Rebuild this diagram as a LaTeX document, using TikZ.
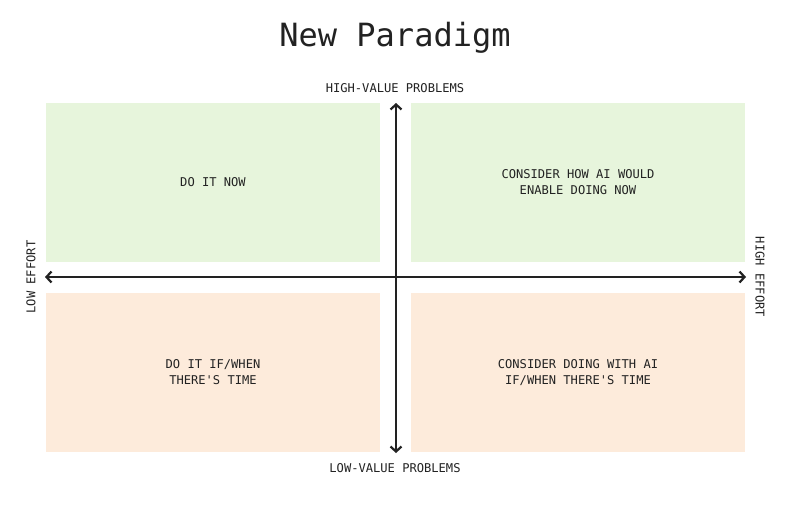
\documentclass[tikz,border=0pt]{standalone}
\usepackage{fontspec}
\setmonofont{DejaVu Sans Mono}
\usetikzlibrary{arrows.meta}
\definecolor{hiv}{HTML}{E7F5DC}
\definecolor{lov}{HTML}{FDEBDB}
\definecolor{ink}{HTML}{222222}
\tikzset{
  quad/.style={inner sep=0pt, minimum width=334pt, minimum height=159pt, text=ink, font=\ttfamily\fontsize{12.1}{16}\selectfont, align=center},
  axislabel/.style={text=ink, font=\ttfamily\fontsize{12.1}{14}\selectfont, inner sep=0pt},
  axis/.style={draw=ink, line width=2.6pt, {Straight Barb[length=5pt,width=11pt,line width=2.2pt]}-{Straight Barb[length=5pt,width=11pt,line width=2.2pt]}}
}
\begin{document}
\begin{tikzpicture}[x=1pt,y=-1pt]
  \useasboundingbox[fill=white] (0,0) rectangle (795,511);
  \node[text=ink, font=\ttfamily\fontsize{32}{34}\selectfont, inner sep=0pt] (title) at (395,38) {New Paradigm};

  \node[quad, fill=hiv] (q1) at (213,182.5) {DO IT NOW};
  \node[quad, fill=hiv] (q2) at (578,182.5) {CONSIDER HOW AI WOULD\\ENABLE DOING NOW};
  \node[quad, fill=lov] (q3) at (213,372.5) {DO IT IF/WHEN\\THERE'S TIME};
  \node[quad, fill=lov] (q4) at (578,372.5) {CONSIDER DOING WITH AI\\IF/WHEN THERE'S TIME};

  \coordinate (top) at (396,103);
  \coordinate (bot) at (396,453);
  \coordinate (lft) at (45,277);
  \coordinate (rgt) at (746,277);
  \draw[axis] (bot) -- (top);
  \draw[axis] (lft) -- (rgt);

  \node[axislabel] (hv) at (395,88) {HIGH-VALUE PROBLEMS};
  \node[axislabel] (lv) at (395,468) {LOW-VALUE PROBLEMS};
  \node[axislabel, rotate=90] (le) at (31,277) {LOW EFFORT};
  \node[axislabel, rotate=-90] (he) at (760,277) {HIGH EFFORT};
\end{tikzpicture}
\end{document}
